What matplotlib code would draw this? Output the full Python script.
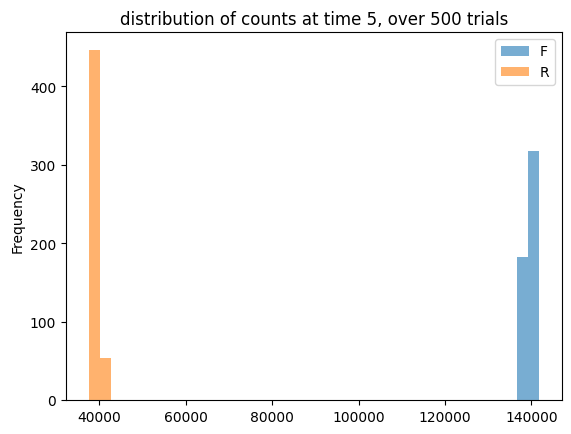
import numpy as np
import matplotlib
matplotlib.use("Agg")
import matplotlib.pyplot as plt

# Histogram specification
bin_min = 37500
bin_max = 141850
n_bins = 40
series_names = ["F", "R"]
f_bin_index = [38, 39]
f_counts = [183, 317]
r_bin_index = [0, 1]
r_counts = [447, 53]

edges = np.linspace(bin_min, bin_max, n_bins + 1)
centers = (edges[:-1] + edges[1:]) / 2

fig = plt.figure(figsize=(5.71, 4.35), dpi=100)
ax = fig.add_axes([66/571, 34/435, (562-66)/571, (401-33)/435])

ax.hist(centers[f_bin_index], bins=edges, weights=f_counts, alpha=0.6, color="C0", label=series_names[0])
ax.hist(centers[r_bin_index], bins=edges, weights=r_counts, alpha=0.6, color="C1", label=series_names[1])

ax.set_ylabel("Frequency")
ax.set_title("distribution of counts at time 5, over 500 trials")
ax.legend(loc="upper right")

fig.savefig("out.png", dpi=100)
